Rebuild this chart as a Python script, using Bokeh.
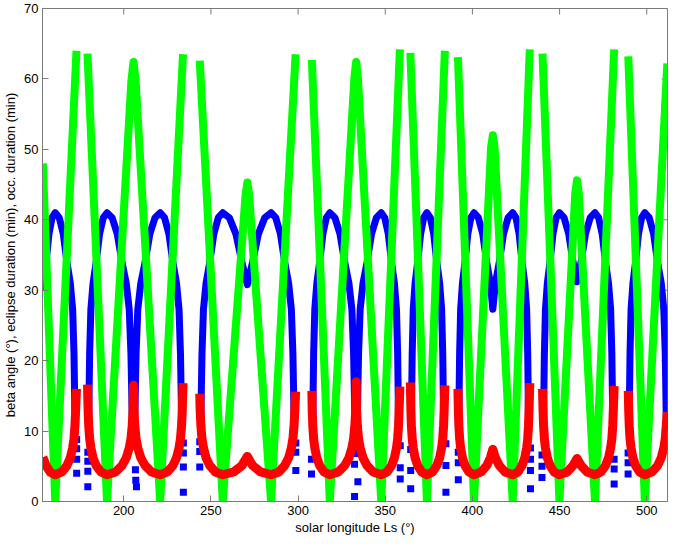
from bokeh.plotting import figure
from bokeh.models import Range1d, FixedTicker
from bokeh.embed import file_html
from bokeh.resources import INLINE

nan = float("nan")

# ---- data ----
x_ticks = [200, 250, 300, 350, 400, 450, 500]
y_ticks = [0, 10, 20, 30, 40, 50, 60, 70]
x_lo, x_hi = 153.4, 511.9
y_lo, y_hi = 0, 70

# beta angle (deg) - green; NaN separates the drawn pieces
beta_ls = [153.6, 160.7, 172.9, nan,
           179.2, 190.4, 204.4, 205.6, 206.8, 220.9, 234.0, nan,
           243.6, 256.8, 269.9, 270.9, 271.9, 284.5, 298.6, nan,
           307.9, 318.2, 332.3, 333.3, 334.3, 347.7, 358.4, nan,
           364.4, 373.9, 384.2, nan,
           391.7, 400.9, 410.7, 411.7, 412.7, 423.1, 432.9, nan,
           440.2, 449.9, 459.0, 460.0, 461.0, 470.3, 481.3, nan,
           489.4, 498.9, 511.8]
beta_deg = [48.0, 0, 64.0, nan,
            63.6, 0, 59.8, 62.4, 59.8, 0, 63.5, nan,
            62.6, 0, 43.6, 45.3, 43.6, 0, 63.5, nan,
            62.7, 0, 60.2, 62.4, 60.2, 0, 64.2, nan,
            63.7, 0, 64.0, nan,
            63.1, 0, 50.3, 52.0, 50.3, 0, 64.2, nan,
            63.6, 0, 43.8, 45.6, 43.8, 0, 64.2, nan,
            63.2, 0, 62.2]

# eclipse duration (min) - blue line
ecl_ls = [153.6, 155.47, 157.11, 158.91, 160.7, 163.01, 165.31, 167.42, 169.34, 170.69, 171.46, 171.84, 172.13, nan,
          179.82, 180.09, 180.44, 181.15, 182.4, 184.18, 186.13, 188.27, 190.4, 193.34, 196.28, 198.98, 201.43, 203.15, 204.13, 204.62, 204.99, nan,
          206.22, 206.59, 207.08, 208.07, 209.79, 212.26, 214.98, 217.94, 220.9, 223.39, 225.89, 228.18, 230.26, 231.71, 232.54, 232.96, 233.27, nan,
          244.13, 244.45, 244.88, 245.73, 247.22, 249.35, 251.69, 254.25, 256.8, 260.56, 264.32, 267.77, 270.9, 273.92, 277.25, 280.87, 284.5, 287.19, 289.87, 292.33, 294.57, 296.14, 297.03, 297.48, 297.82, nan,
          308.35, 308.6, 308.93, 309.59, 310.75, 312.4, 314.23, 316.21, 318.2, 321.12, 324.04, 326.72, 329.16, 330.86, 331.84, 332.32, 332.69, nan,
          333.88, 334.23, 334.69, 335.62, 337.25, 339.57, 342.12, 344.91, 347.7, 349.72, 351.73, 353.58, 355.26, 356.44, 357.11, 357.44, 357.7, nan,
          364.93, 365.15, 365.46, 366.06, 367.11, 368.62, 370.28, 372.09, 373.9, 375.85, 377.79, 379.58, 381.2, 382.33, 382.98, 383.31, 383.55, nan,
          392.14, 392.36, 392.66, 393.25, 394.28, 395.75, 397.37, 399.13, 400.9, 403.4, 405.9, 408.2, 410.28, 411.7, 413.2, 415.4, 417.82, 420.46, 423.1, 424.95, 426.79, 428.48, 430.02, 431.1, 431.71, 432.02, 432.25, nan,
          440.74, 440.97, 441.28, 441.89, 442.97, 444.51, 446.2, 448.05, 449.9, 452.58, 455.25, 457.71, 460.0, 462.34, 464.84, 467.57, 470.3, 472.37, 474.44, 476.34, 478.07, 479.28, 479.97, 480.32, 480.58, nan,
          489.87, 490.1, 490.4, 491.01, 492.07, 493.59, 495.26, 497.08, 498.9, 501.41, 503.92, 506.22, 508.31, 509.77, 510.61, 510.99, 511.3]
ecl_min = [30, 34, 38, 40.3, 41, 40.3, 38, 34, 31, 27.3, 21, 15, 10, nan,
           10, 15, 21, 27.3, 31, 34, 38, 40.3, 41, 40.3, 38, 34, 31, 27.3, 21, 15, 10, nan,
           10, 15, 21, 27.3, 31, 34, 38, 40.3, 41, 40.3, 38, 34, 31, 27.3, 21, 15, 10, nan,
           10, 15, 21, 27.3, 31, 34, 38, 40.3, 41, 40.3, 38, 34, 30.8, 34, 38, 40.3, 41, 40.3, 38, 34, 31, 27.3, 21, 15, 10, nan,
           10, 15, 21, 27.3, 31, 34, 38, 40.3, 41, 40.3, 38, 34, 31, 27.3, 21, 15, 10, nan,
           10, 15, 21, 27.3, 31, 34, 38, 40.3, 41, 40.3, 38, 34, 31, 27.3, 21, 15, 10, nan,
           10, 15, 21, 27.3, 31, 34, 38, 40.3, 41, 40.3, 38, 34, 31, 27.3, 21, 15, 10, nan,
           10, 15, 21, 27.3, 31, 34, 38, 40.3, 41, 40.3, 38, 34, 31, 27.3, 31, 34, 38, 40.3, 41, 40.3, 38, 34, 31, 27.3, 21, 15, 10, nan,
           10, 15, 21, 27.3, 31, 34, 38, 40.3, 41, 40.3, 38, 34, 31.2, 34, 38, 40.3, 41, 40.3, 38, 34, 31, 27.3, 21, 15, 10, nan,
           10, 15, 21, 27.3, 31, 34, 38, 40.3, 41, 40.3, 38, 34, 31, 27.3, 21, 15, 10]

# isolated eclipse samples (blue squares)
ecl_pts_ls = [173.0, 173.0, 173.0, 173.0, 179.4, 179.4, 179.4, 179.4, 206.7, 206.9, 207.3, 234.2, 234.2, 234.2, 234.2,
              243.6, 243.6, 243.6, 298.7, 298.7, 298.7, 307.7, 307.7, 332.4, 332.4, 334.3, 332.4, 358.6, 358.6, 358.6,
              364.6, 364.6, 364.6, 384.8, 384.8, 384.8, 391.9, 391.9, 391.9, 433.3, 433.3, 433.3, 433.3,
              439.9, 439.9, 439.9, 481.3, 481.3, 481.3, 489.3, 489.3, 489.3]
ecl_pts_min = [8.8, 7.5, 6.0, 4.0, 7.0, 5.7, 4.3, 2.1, 4.5, 3.0, 2.1, 8.3, 6.9, 4.9, 1.3,
               8.5, 7.1, 4.9, 8.3, 7.0, 4.4, 6.0, 3.9, 6.8, 5.3, 2.8, 0.7, 7.9, 4.8, 3.2,
               7.4, 4.4, 1.8, 8.2, 5.1, 1.3, 7.0, 5.5, 3.1, 7.6, 6.0, 4.4, 1.8,
               6.6, 5.0, 3.4, 6.0, 4.6, 2.5, 6.9, 5.5, 3.9]

# occultation duration (min) - red
occ_ls = [153.6, 155.47, 157.71, 160.7, 164.54, 167.42, 169.34, 170.69, 171.46, 172.03, 172.42, 172.9, nan,
          179.2, 179.55, 179.91, 180.44, 181.15, 182.4, 184.18, 186.84, 190.4, 195.3, 198.98, 201.43, 203.15, 204.13, 204.87, 205.36, 205.6,
          205.85, 206.34, 207.08, 208.07, 209.79, 212.26, 215.96, 220.9, 225.06, 228.18, 230.26, 231.71, 232.54, 233.17, 233.58, 234.0, nan,
          243.6, 243.81, 244.24, 244.88, 245.73, 247.22, 249.35, 252.54, 256.8, 263.07, 267.77, 270.9, 273.92, 278.46, 284.5,
          288.98, 292.33, 294.57, 296.14, 297.03, 297.7, 298.15, 298.6, nan,
          307.9, 308.1, 308.43, 308.93, 309.59, 310.75, 312.4, 314.89, 318.2, 323.07, 326.72, 329.16, 330.86, 331.84, 332.57, 333.05, 333.3,
          333.53, 333.99, 334.69, 335.62, 337.25, 339.57, 343.05, 347.7, 351.06, 353.58, 355.26, 356.44, 357.11, 357.61, 357.95, 358.4, nan,
          364.4, 364.7, 365.0, 365.46, 366.06, 367.11, 368.62, 370.88, 373.9, 377.14, 379.58, 381.2, 382.33, 382.98, 383.47, 383.79, 384.2, nan,
          391.7, 391.92, 392.22, 392.66, 393.25, 394.28, 395.75, 397.96, 400.9, 405.07, 408.2, 410.28, 411.7, 413.2, 415.4, 418.7, 423.1,
          426.18, 428.48, 430.02, 431.1, 431.71, 432.17, 432.48, 432.9, nan,
          440.2, 440.51, 440.81, 441.28, 441.89, 442.97, 444.51, 446.82, 449.9, 454.36, 457.71, 460.0, 462.34, 465.75, 470.3,
          473.75, 476.34, 478.07, 479.28, 479.97, 480.49, 480.83, 481.3, nan,
          489.4, 489.64, 489.94, 490.4, 491.01, 492.07, 493.59, 495.86, 498.9, 503.08, 506.22, 508.31, 509.77, 510.61, 511.8]
occ_min = [6.3, 5.1, 4.2, 3.8, 4.2, 5.1, 6.2, 7.6, 8.9, 10.8, 13.0, 16.0, nan,
           16.6, 13.0, 10.8, 8.9, 7.6, 6.2, 5.1, 4.2, 3.8, 4.2, 5.1, 6.2, 7.6, 8.9, 10.8, 13.0, 16.5,
           13.0, 10.8, 8.9, 7.6, 6.2, 5.1, 4.2, 3.8, 4.2, 5.1, 6.2, 7.6, 8.9, 10.8, 13.0, 16.8, nan,
           15.3, 13.0, 10.8, 8.9, 7.6, 6.2, 5.1, 4.2, 3.8, 4.2, 5.1, 6.4, 5.1, 4.2, 3.8,
           4.2, 5.1, 6.2, 7.6, 8.9, 10.8, 13.0, 15.6, nan,
           15.7, 13.0, 10.8, 8.9, 7.6, 6.2, 5.1, 4.2, 3.8, 4.2, 5.1, 6.2, 7.6, 8.9, 10.8, 13.0, 17.0,
           13.0, 10.8, 8.9, 7.6, 6.2, 5.1, 4.2, 3.8, 4.2, 5.1, 6.2, 7.6, 8.9, 10.8, 13.0, 16.3, nan,
           16.9, 13.0, 10.8, 8.9, 7.6, 6.2, 5.1, 4.2, 3.8, 4.2, 5.1, 6.2, 7.6, 8.9, 10.8, 13.0, 16.5, nan,
           16.0, 13.0, 10.8, 8.9, 7.6, 6.2, 5.1, 4.2, 3.8, 4.2, 5.1, 6.2, 7.4, 6.2, 5.1, 4.2, 3.8,
           4.2, 5.1, 6.2, 7.6, 8.9, 10.8, 13.0, 16.8, nan,
           16.0, 13.0, 10.8, 8.9, 7.6, 6.2, 5.1, 4.2, 3.8, 4.2, 5.1, 6.1, 5.1, 4.2, 3.8,
           4.2, 5.1, 6.2, 7.6, 8.9, 10.8, 13.0, 16.4, nan,
           15.7, 13.0, 10.8, 8.9, 7.6, 6.2, 5.1, 4.2, 3.8, 4.2, 5.1, 6.2, 7.6, 8.9, 12.7]

# ---- figure ----
GRAY = "#7a7a7a"
FONT = "Liberation Sans"
TICK_LEN_X = 3.4    # length (data units) of the right-edge tick marks
TICK_LEN_Y = 0.85   # length (data units) of the top-edge tick marks

p = figure(width=669, height=537, output_backend="svg", toolbar_location=None,
           x_range=Range1d(x_lo, x_hi), y_range=Range1d(y_lo, y_hi),
           min_border_left=33, min_border_right=2, min_border_top=8, min_border_bottom=0)
p.background_fill_color = "white"
p.border_fill_color = "white"
p.outline_line_color = GRAY
p.outline_line_width = 1
p.grid.visible = False

p.xaxis.ticker = FixedTicker(ticks=x_ticks)
p.yaxis.ticker = FixedTicker(ticks=y_ticks)
p.xaxis.axis_label = "solar longitude Ls (\u00b0)"
p.yaxis.axis_label = "beta angle (\u00b0), eclipse duration (min), occ. duration (min)"
for ax in (p.xaxis[0], p.yaxis[0]):
    ax.axis_line_color = GRAY
    ax.major_tick_line_color = GRAY
    ax.minor_tick_line_color = None
    ax.major_tick_in = 6
    ax.major_tick_out = 0
    ax.major_label_text_font = FONT
    ax.major_label_text_font_size = "13px"
    ax.major_label_text_color = "black"
    ax.axis_label_text_font = FONT
    ax.axis_label_text_font_size = "13px"
    ax.axis_label_text_font_style = "normal"
    ax.axis_label_text_color = "black"
p.xaxis.major_label_standoff = 4
p.xaxis.axis_label_standoff = 2
p.yaxis.major_label_standoff = 4
p.yaxis.axis_label_standoff = 3

# box tick marks on the top and right edges
p.segment(x0=x_ticks, x1=x_ticks, y0=[y_hi] * len(x_ticks), y1=[y_hi - TICK_LEN_Y] * len(x_ticks),
          line_color=GRAY, line_width=1)
p.segment(x0=[x_hi] * len(y_ticks), x1=[x_hi - TICK_LEN_X] * len(y_ticks), y0=y_ticks, y1=y_ticks,
          line_color=GRAY, line_width=1)

p.line(ecl_ls, ecl_min, line_color="#0000ff", line_width=7, line_join="round")
p.scatter(ecl_pts_ls, ecl_pts_min, marker="square", size=7, fill_color="#0000ff", line_color=None)
p.line(beta_ls, beta_deg, line_color="#00ff00", line_width=8, line_join="round", line_cap="butt")
p.line(occ_ls, occ_min, line_color="#ff0000", line_width=9, line_join="round", line_cap="butt")

open("out.html", "w").write(file_html(p, INLINE))
